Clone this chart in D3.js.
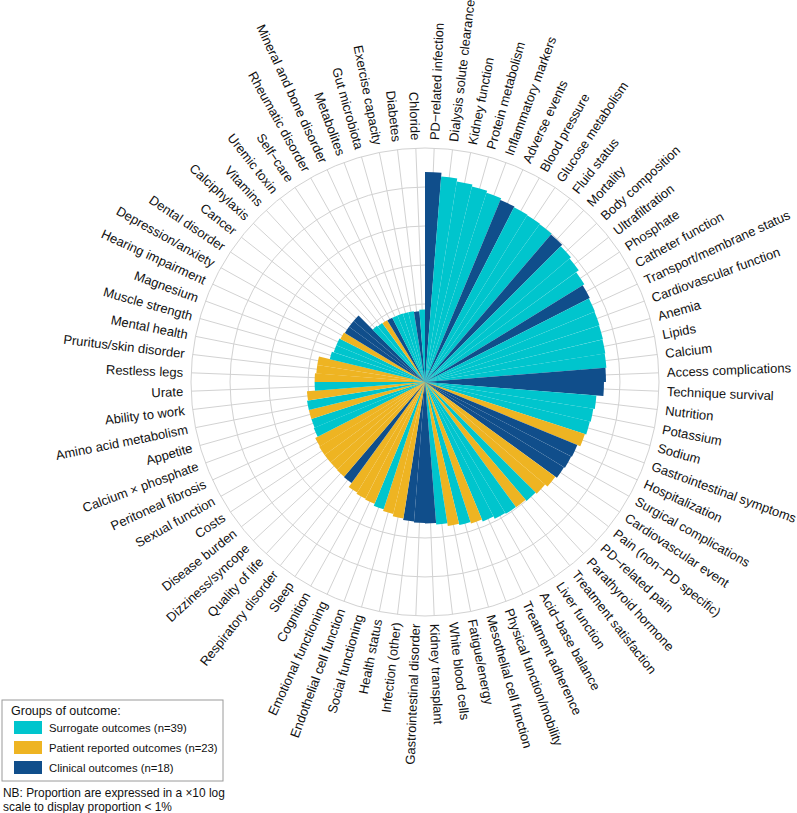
<!DOCTYPE html>
<html>
<head>
<meta charset="utf-8">
<script src="https://cdn.jsdelivr.net/npm/d3@7"></script>
<style>
  body { margin: 0; background: #fff; }
  svg { display: block; font-family: "Liberation Sans", Arial, Helvetica, sans-serif; }
  .grid line, .grid circle { stroke: #d2d2d2; fill: none; stroke-width: 1; }
  .label { font-size: 13px; fill: #111; }
  .legend text { font-size: 11.3px; fill: #111; }
  .legend .title { font-size: 12.5px; }
  .note { font-size: 11.9px; fill: #111; }
</style>
</head>
<body>
<svg id="chart" width="797" height="813"></svg>
<script>
// outcomes, clockwise from 12 o'clock
const outcomes = [
  'PD\u2212related infection', 'Dialysis solute clearance', 'Kidney function', 'Protein metabolism',
  'Inflammatory markers', 'Adverse events', 'Blood pressure', 'Glucose metabolism', 'Fluid status',
  'Mortality', 'Body composition', 'Ultrafiltration', 'Phosphate', 'Catheter function',
  'Transport/membrane status', 'Cardiovascular function', 'Anemia', 'Lipids', 'Calcium',
  'Access complications', 'Technique survival', 'Nutrition', 'Potassium', 'Sodium',
  'Gastrointestinal symptoms', 'Hospitalization', 'Surgical complications', 'Cardiovascular event',
  'Pain (non\u2212PD specific)', 'PD\u2212related pain', 'Parathyroid hormone', 'Treatment satisfaction',
  'Liver function', 'Acid\u2212base balance', 'Treatment adherence', 'Physical function/mobility',
  'Mesothelial cell function', 'Fatigue/energy', 'White blood cells', 'Kidney transplant',
  'Gastrointestinal disorder', 'Infection (other)', 'Health status', 'Social functioning',
  'Endothelial cell function', 'Emotional functioning', 'Cognition', 'Sleep', 'Respiratory disorder',
  'Quality of life', 'Dizziness/syncope', 'Disease burden', 'Costs', 'Sexual function',
  'Peritoneal fibrosis', 'Calcium \u00d7 phosphate', 'Appetite', 'Amino acid metabolism',
  'Ability to work', 'Urate', 'Restless legs', 'Pruritus/skin disorder', 'Mental health',
  'Muscle strength', 'Magnesium', 'Hearing impairment', 'Depression/anxiety', 'Dental disorder',
  'Cancer', 'Calciphylaxis', 'Vitamins', 'Uremic toxin', 'Self\u2212care', 'Rheumatic disorder',
  'Mineral and bone disorder', 'Metabolites', 'Gut microbiota', 'Exercise capacity', 'Diabetes',
  'Chloride'
];

// S = surrogate, P = patient reported, C = clinical
const groups = [
  'C','S','S','S','S','C','S','S','S','C',
  'S','S','S','C','S','S','S','S','S','C',
  'C','S','S','S','P','C','C','C','P','P',
  'S','P','S','S','S','P','S','P','S','C',
  'C','C','P','P','S','P','P','P','C','P',
  'P','P','P','P','S','S','P','S','P','S',
  'P','P','P','S','S','S','P','C','C','C',
  'S','S','P','C','S','S','S','S','C','S'
];

// proportion of trials (%)
const proportions = [
  49.2, 43.8, 40.1, 37.8, 35.6, 33.5, 32.6, 32.1, 31.6, 30.7,
  28.9, 27.3, 24.9, 23.5, 22.8, 22.5, 22.2, 21.9, 21.5, 20.9,
  19.7, 16.0, 15.3, 14.9, 14.3, 13.0, 12.7, 12.3, 11.6, 10.6,
  10.1, 9.7, 9.6, 9.3, 8.6, 8.1, 7.7, 7.4, 6.8, 6.5,
  6.4, 6.2, 5.9, 5.5, 5.2, 4.9, 4.8, 4.6, 4.0, 3.95,
  3.9, 3.9, 3.9, 3.8, 3.5, 3.4, 3.4, 3.4, 3.3, 2.6,
  2.6, 2.5, 2.5, 1.8, 1.7, 1.7, 1.65, 1.6, 1.6, 1.6,
  0.89, 0.86, 0.85, 0.84, 0.84, 0.84, 0.83, 0.83, 0.81, 0.85
];

const groupKeys = ['S', 'P', 'C'];
const groupNames = ['Surrogate outcomes (n=39)', 'Patient reported outcomes (n=23)', 'Clinical outcomes (n=18)'];
const groupColors = ['#00C5CD', '#EEB422', '#104E8B'];
const gridTicks = [0.316, 1, 3.16, 10, 31.6, 100];

const svg = d3.select('#chart');
const cx = 425, cy = 382;
const outerR = 234;

const data = outcomes.map((name, i) => ({name: name, group: groups[i], value: proportions[i]}));

// x10 log scale: 0.1% sits at the centre
const r = d3.scaleLog().domain([0.1, 100]).range([0, outerR]);
const angle = d3.scaleBand().domain(outcomes).range([0, 2 * Math.PI]);
const color = d3.scaleOrdinal().domain(groupKeys).range(groupColors);

const g = svg.append('g').attr('transform', 'translate(' + cx + ',' + cy + ')');

// grid
const grid = g.append('g').attr('class', 'grid');
grid.selectAll('circle')
  .data(gridTicks)
  .enter().append('circle')
  .attr('r', d => r(d));

grid.selectAll('line')
  .data(outcomes)
  .enter().append('line')
  .attr('x1', 0).attr('y1', 0)
  .attr('x2', d => outerR * Math.sin(angle(d) + angle.bandwidth() / 2))
  .attr('y2', d => -outerR * Math.cos(angle(d) + angle.bandwidth() / 2));

// bars
const arc = d3.arc()
  .innerRadius(0)
  .outerRadius(d => r(d.value))
  .startAngle(d => angle(d.name))
  .endAngle(d => angle(d.name) + angle.bandwidth());

g.append('g').selectAll('path')
  .data(data)
  .enter().append('path')
  .attr('d', arc)
  .attr('fill', d => color(d.group));

// labels
g.append('g').selectAll('text')
  .data(data)
  .enter().append('text')
  .attr('class', 'label')
  .attr('dy', '0.35em')
  .attr('transform', d => {
    const a = (angle(d.name) + angle.bandwidth() / 2) * 180 / Math.PI;
    return 'rotate(' + (a - 90) + ') translate(' + (outerR + 8) + ',0)' + (a > 180 ? ' rotate(180)' : '');
  })
  .style('text-anchor', d => {
    const a = (angle(d.name) + angle.bandwidth() / 2) * 180 / Math.PI;
    return a > 180 ? 'end' : 'start';
  })
  .text(d => d.name);

// legend
const legend = svg.append('g').attr('class', 'legend').attr('transform', 'translate(2,700)');
legend.append('rect')
  .attr('width', 221).attr('height', 81)
  .attr('fill', '#fff').attr('stroke', '#9a9a9a');
legend.append('text').attr('class', 'title').attr('x', 9).attr('y', 15).text('Groups of outcome:');

const items = legend.selectAll('.item')
  .data(groupKeys)
  .enter().append('g')
  .attr('class', 'item')
  .attr('transform', (d, i) => 'translate(12,' + (21 + i * 20) + ')');
items.append('rect')
  .attr('width', 28).attr('height', 13)
  .attr('fill', d => color(d));
items.append('text')
  .attr('x', 35).attr('y', 11)
  .text((d, i) => groupNames[i]);

svg.append('text').attr('class', 'note').attr('x', 3).attr('y', 797)
  .text('NB: Proportion are expressed in a \u00d710 log');
svg.append('text').attr('class', 'note').attr('x', 3).attr('y', 811)
  .text('scale to display proportion < 1%');
</script>
</body>
</html>
